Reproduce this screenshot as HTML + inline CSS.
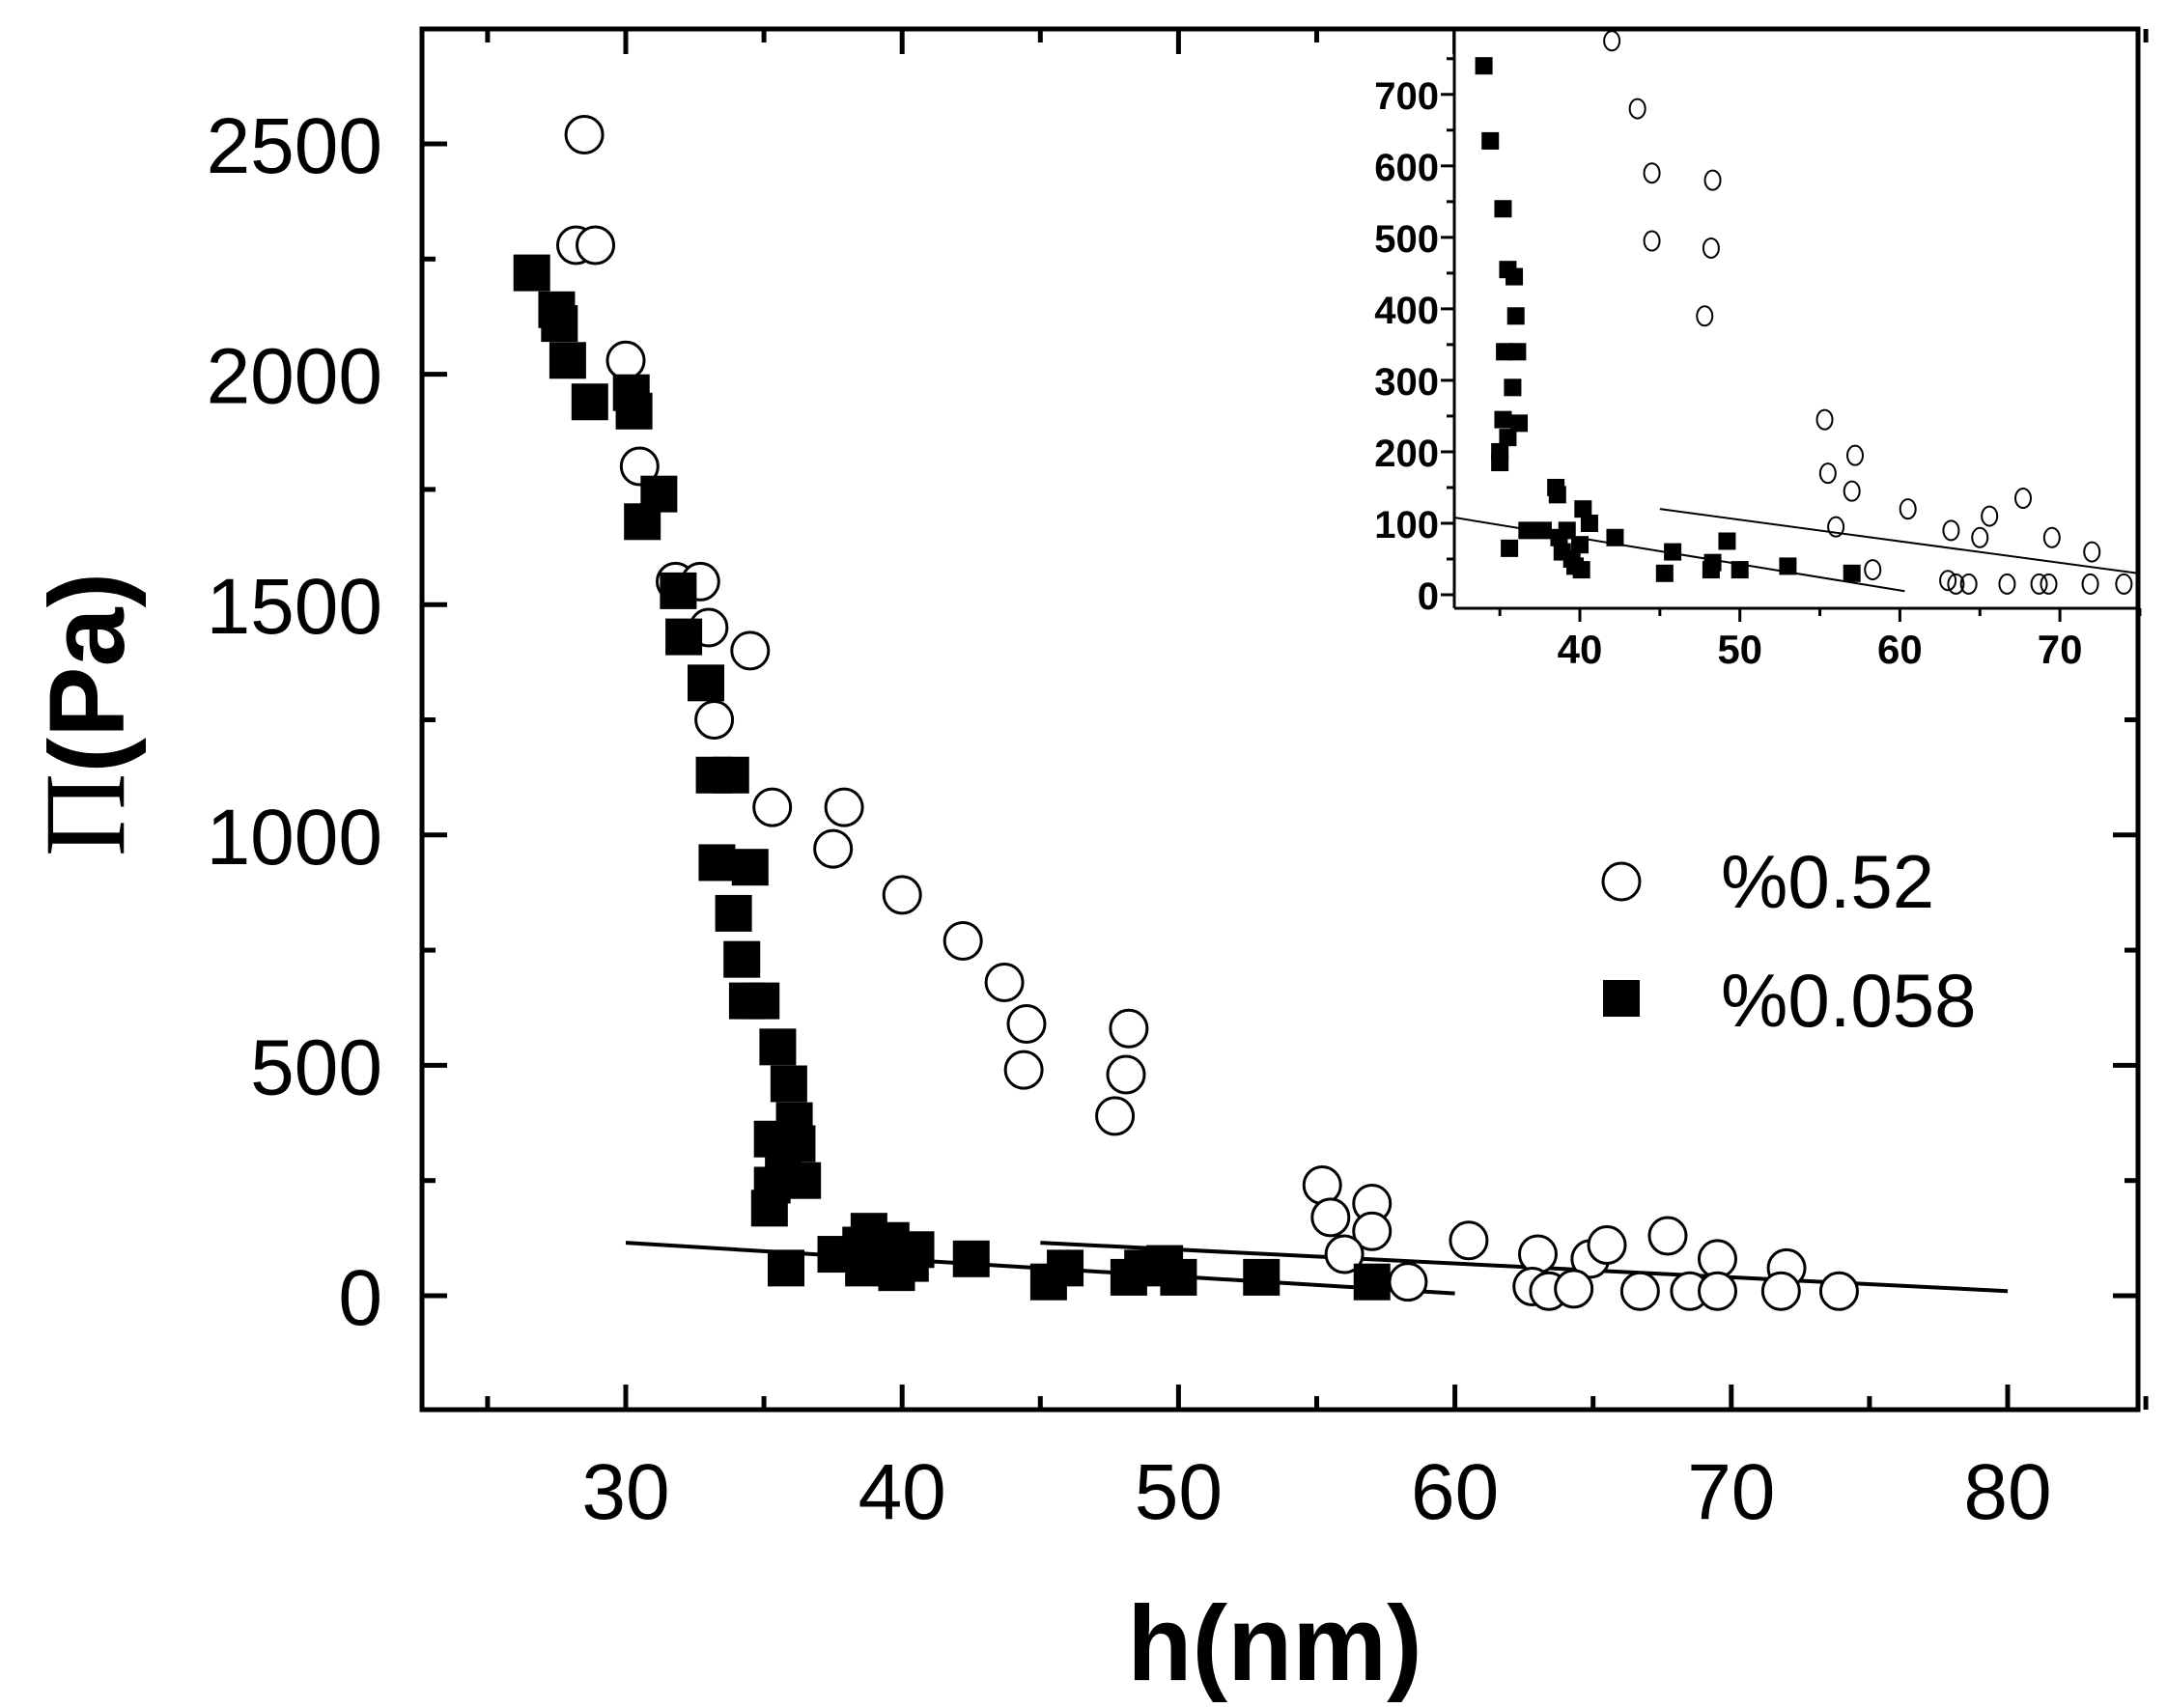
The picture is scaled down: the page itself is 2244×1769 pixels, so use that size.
<!DOCTYPE html>
<html><head><meta charset="utf-8"><style>html,body{margin:0;padding:0;background:#fff}svg{display:block}</style></head>
<body>
<svg id="s" xmlns="http://www.w3.org/2000/svg" width="2244" height="1769" viewBox="0 0 2244 1769" font-family="Liberation Sans, DejaVu Sans, sans-serif"></svg>
<script>
const s=document.getElementById('s');let h='';
const L=437,R=2214,T=30,B=1460;
const X=v=>648+(v-30)*28.62, Y=v=>1342-v*0.4772;
h+=`<rect x="${L}" y="${T}" width="${R-L}" height="${B-T}" fill="none" stroke="#000" stroke-width="5"/>`;
for(let v=25;v<=85;v+=5){const x=X(v),len=v%10==0?26:14;h+=`<line x1="${x}" y1="${B}" x2="${x}" y2="${B-len}" stroke="#000" stroke-width="5"/><line x1="${x}" y1="${T}" x2="${x}" y2="${T+len}" stroke="#000" stroke-width="5"/>`;
 if(v%10==0&&v>=30&&v<=80)h+=`<text x="${x}" y="1573" font-size="82" text-anchor="middle">${v}</text>`;}
for(let v=-250;v<=2750;v+=250){const y=Y(v);if(y<T||y>B)continue;const len=v%500==0?26:14;h+=`<line x1="${L}" y1="${y}" x2="${L+len}" y2="${y}" stroke="#000" stroke-width="5"/><line x1="${R}" y1="${y}" x2="${R-len}" y2="${y}" stroke="#000" stroke-width="5"/>`;
 if(v%500==0&&v>=0)h+=`<text x="396" y="${y+30}" font-size="82" text-anchor="end">${v}</text>`;}
h+=`<text x="1320" y="1740" font-size="110" font-weight="bold" text-anchor="middle">h(nm)</text>`;
h+=`<text transform="translate(128,740) rotate(-90)" font-size="110" font-weight="bold" text-anchor="middle"><tspan font-family="Liberation Serif, serif" font-weight="normal" font-size="120">Π</tspan>(Pa)</text>`;
h+=`<line x1="${X(30)}" y1="${Y(115)}" x2="${X(60)}" y2="${Y(5)}" stroke="#000" stroke-width="4"/>`;
h+=`<line x1="${X(45)}" y1="${Y(115)}" x2="${X(80)}" y2="${Y(10)}" stroke="#000" stroke-width="4"/>`;
const oc=[[28.5,2520],[28.2,2280],[28.9,2280],[30,2030],[30.5,1800],[31.8,1550],[32.7,1550],[33,1450],[34.5,1400],[33.2,1250],[35.3,1060],[37.9,1060],[37.5,970],[40,870],[42.2,770],[43.7,680],[44.5,590],[44.4,490],[48.2,580],[48.1,480],[47.7,390],[55.2,240],[55.5,170],[57,200],[57,140],[56,90],[58.3,30],[60.5,120],[63,90],[62.8,20],[63.4,10],[64.9,80],[65.5,110],[64.3,15],[66.7,10],[67.7,130],[68.5,10],[69.5,80],[69.5,10],[72,60],[71.8,10],[73.9,10]];
const sq=[[26.6,2220],[27.5,2140],[27.6,2110],[27.9,2030],[28.7,1940],[30.2,1960],[30.3,1920],[30.6,1680],[31.2,1740],[31.9,1530],[32.1,1430],[32.9,1330],[33.2,1130],[33.8,1130],[33.3,940],[34.5,930],[33.9,830],[34.2,730],[34.4,640],[34.9,640],[35.5,540],[35.9,460],[36.1,380],[36.2,330],[35.3,340],[35.7,290],[36.4,250],[35.3,240],[35.2,190],[35.8,60],[37.6,90],[38.5,110],[38.8,140],[39.2,100],[39.5,80],[39.8,50],[40.3,70],[40.5,100],[38.6,60],[39.6,120],[42.5,80],[45.3,30],[45.9,60],[48.2,40],[48.7,60],[49.5,70],[50,40],[53,40],[57,30]];
oc.forEach(p=>h+=`<circle cx="${X(p[0])}" cy="${Y(p[1])}" r="19" fill="#fff" stroke="#000" stroke-width="3"/>`);
sq.forEach(p=>h+=`<rect x="${X(p[0])-19}" y="${Y(p[1])-19}" width="38" height="38" fill="#000"/>`);
h+=`<circle cx="1679" cy="913" r="19" fill="#fff" stroke="#000" stroke-width="3"/><text x="1782" y="940" font-size="78">%0.52</text>`;
h+=`<rect x="1660" y="1015" width="38" height="38" fill="#000"/><text x="1782" y="1063" font-size="78">%0.058</text>`;
const IL=1506,IB=630;
const x2=v=>1636+(v-40)*16.57, y2=v=>616-v*0.7403;
h+=`<rect x="${IL}" y="${T}" width="${R-IL}" height="${IB-T}" fill="#fff"/>`;
h+=`<line x1="${IL}" y1="${T}" x2="${IL}" y2="${IB}" stroke="#000" stroke-width="3"/><line x1="${IL}" y1="${IB}" x2="${R}" y2="${IB}" stroke="#000" stroke-width="3"/>`;
for(let v=35;v<=75;v+=5){const x=x2(v);if(x<IL)continue;const len=v%10==0?14:8;h+=`<line x1="${x}" y1="${IB}" x2="${x}" y2="${IB+len}" stroke="#000" stroke-width="3"/>`;
 if(v%10==0)h+=`<text x="${x}" y="${IB+57}" font-size="42" font-weight="bold" text-anchor="middle">${v}</text>`;}
for(let v=0;v<=750;v+=50){const y=y2(v);const len=v%100==0?14:8;h+=`<line x1="${IL}" y1="${y}" x2="${IL-len}" y2="${y}" stroke="#000" stroke-width="3"/>`;
 if(v%100==0)h+=`<text x="${IL-16}" y="${y+15}" font-size="40" font-weight="bold" text-anchor="end">${v}</text>`;}
h+=`<line x1="${IL}" y1="${y2(108)}" x2="${x2(60.3)}" y2="${y2(5)}" stroke="#000" stroke-width="2"/>`;
h+=`<line x1="${x2(45)}" y1="${y2(120)}" x2="${R}" y2="${y2(30)}" stroke="#000" stroke-width="2"/>`;
const ioc=[[42,775],[43.6,680],[44.5,590],[44.5,495],[48.3,580],[48.2,485],[47.8,390],[55.3,245],[55.5,170],[57.2,195],[57,145],[56,95],[58.3,35],[60.5,120],[63.2,90],[63,20],[63.5,15],[65,80],[65.6,110],[64.3,15],[66.7,15],[67.7,135],[68.7,15],[69.5,80],[69.3,15],[72,60],[71.9,15],[74,15]];
const isq=[[34,740],[34.4,635],[35.2,540],[35.5,455],[35.9,445],[36,390],[35.3,340],[36.1,340],[35.8,290],[35.2,245],[35.5,220],[36.2,240],[35,200],[35,185],[35.6,65],[36.7,90],[37.7,90],[38.5,150],[38.6,140],[38.9,60],[39.2,90],[39.5,50],[39.7,40],[40,70],[40.2,120],[40.6,100],[40.1,35],[38.7,80],[42.2,80],[45.3,30],[45.8,60],[48.2,35],[48.3,45],[49.2,75],[50,35],[53,40],[57,30]];
ioc.forEach(p=>h+=`<ellipse cx="${x2(p[0])}" cy="${y2(p[1])}" rx="8" ry="10" fill="none" stroke="#000" stroke-width="2"/>`);
isq.forEach(p=>h+=`<rect x="${x2(p[0])-9}" y="${y2(p[1])-9}" width="18" height="18" fill="#000"/>`);
h+=`<rect x="${L}" y="${T}" width="${R-L}" height="${B-T}" fill="none" stroke="#000" stroke-width="5"/>`;
s.innerHTML=h;
</script>
</body></html>
